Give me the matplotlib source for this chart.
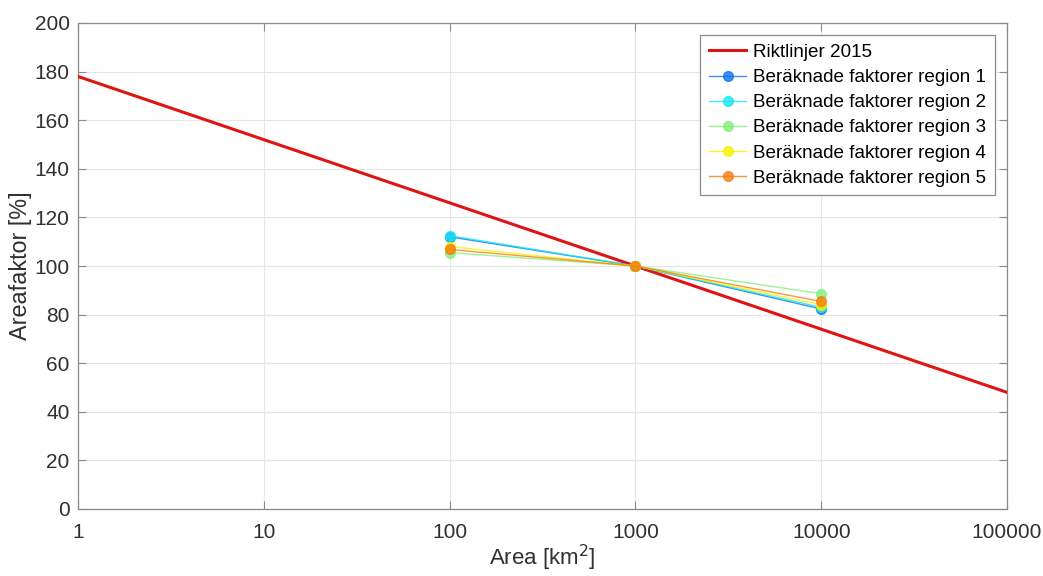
import matplotlib
matplotlib.use("Agg")
import matplotlib.pyplot as plt
from matplotlib.ticker import FixedLocator, FixedFormatter, NullLocator

plt.rcParams['font.family'] = ['Liberation Sans', 'DejaVu Sans']

# Data
guide_area = [1, 100000]
guide_factor = [178, 48]

region_area = [100, 1000, 10000]
region1 = [112.0, 100, 82.3]
region2 = [112.5, 100, 83.0]
region3 = [105.5, 100, 88.6]
region4 = [108.0, 100, 84.0]
region5 = [106.8, 100, 85.4]
regions = [region1, region2, region3, region4, region5]
region_labels = [f"Beräknade faktorer region {i}" for i in range(1, 6)]
region_colors = ['#0A74F0', '#14E6F2', '#84F07C', '#F8F000', '#F77E0E']

x_ticks = [1, 10, 100, 1000, 10000, 100000]
x_ticklabels = ['1', '10', '100', '1000', '10000', '100000']
y_ticks = list(range(0, 201, 20))

fig = plt.figure(figsize=(10.43, 5.76), dpi=100)
ax = fig.add_axes([78/1043, 1 - 509/576, (1007-78)/1043, (509-23)/576])

ax.plot(guide_area, guide_factor, color='#DF1414', lw=2.2, label='Riktlinjer 2015', zorder=3)
for vals, lab, col in zip(regions, region_labels, region_colors):
    ax.plot(region_area, vals, color=col, lw=1.0, alpha=0.8, marker='o', markersize=7,
            markerfacecolor=col, markeredgecolor=col, label=lab, zorder=4)

ax.set_xscale('log')
ax.set_xlim(1, 100000)
ax.set_ylim(0, 200)
ax.xaxis.set_major_locator(FixedLocator(x_ticks))
ax.xaxis.set_major_formatter(FixedFormatter(x_ticklabels))
ax.xaxis.set_minor_locator(NullLocator())
ax.set_yticks(y_ticks)

ax.grid(True, color='#E6E6E6', lw=0.8)
ax.set_axisbelow(True)
for s in ax.spines.values():
    s.set_color('#8A8A8A')
    s.set_linewidth(0.9)
ax.tick_params(direction='in', length=6, width=0.8, color='#8A8A8A',
               labelsize=15, labelcolor='#303030', top=True, right=True)
ax.tick_params(axis='x', pad=10)
ax.tick_params(axis='y', pad=6)

ax.set_xlabel('Area [km$^2$]', fontsize=16, color='#303030', labelpad=1)
ax.set_ylabel('Areafaktor [%]', fontsize=16.8, color='#303030', labelpad=2)

leg = ax.legend(loc='upper right', fontsize=13.6, frameon=True, fancybox=False,
                edgecolor='#8A8A8A', framealpha=1, borderaxespad=0.65,
                handlelength=2.0, handletextpad=0.35, labelspacing=0.42, borderpad=0.45)
leg.get_frame().set_linewidth(0.9)

fig.savefig('out.png', dpi=100)
